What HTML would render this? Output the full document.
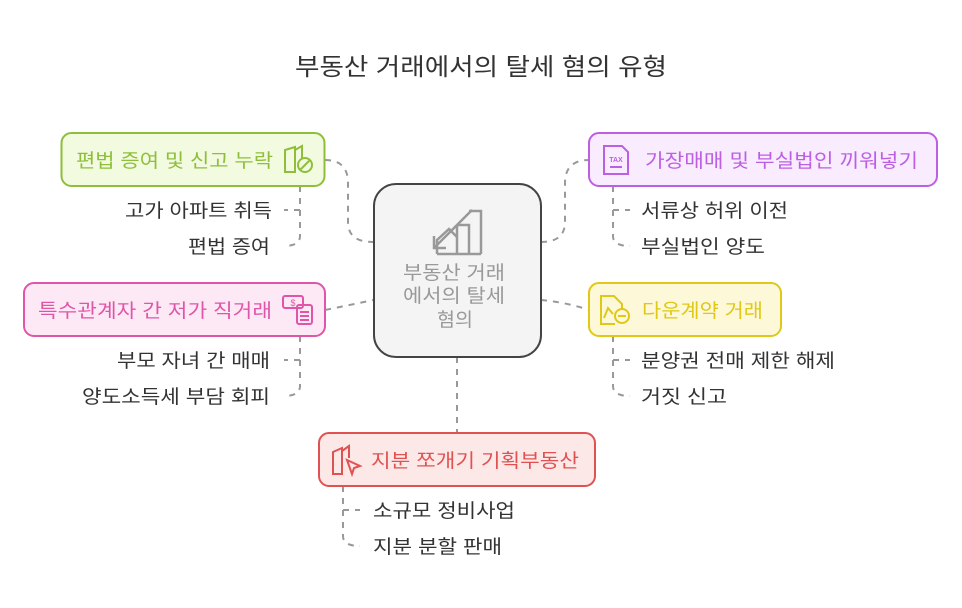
<!DOCTYPE html>
<html><head><meta charset="utf-8"><style>
html,body{margin:0;padding:0;background:#fff;}
svg{display:block;font-family:"Liberation Sans","Noto Sans CJK KR",sans-serif;}
</style></head><body>
<svg width="962" height="608" viewBox="0 0 962 608" xmlns="http://www.w3.org/2000/svg">
<text x="295" y="75" font-size="24" fill="#333" textLength="372" lengthAdjust="spacingAndGlyphs">부동산 거래에서의 탈세 혐의 유형</text>
<g fill="none" stroke="#999" stroke-width="2" stroke-dasharray="6,6">
<path d="M325 160 Q348 160 348 183 L348 222 Q348 242 373 242"/>
<path d="M325 310 Q350 305 373 300"/>
<path d="M541 242 Q565 242 565 222 L565 183 Q565 160 589 160"/>
<path d="M541 300 Q565 302 589 310"/>
<path d="M457 357 L457 433"/>
<path d="M300 186 L300 210 M300 210 L284 210"/>
<path d="M300 210 L300 236 Q300 246 284 246"/>
<path d="M300 336 L300 360 L284 360"/>
<path d="M300 360 L300 386 Q300 396 284 396"/>
<path d="M613 186 L613 210 L630 210"/>
<path d="M613 210 L613 236 Q613 246 630 246"/>
<path d="M613 336 L613 360 L630 360"/>
<path d="M613 360 L613 386 Q613 396 630 396"/>
<path d="M343 486 L343 510 L360 510"/>
<path d="M343 510 L343 536 Q343 546 360 546"/>
</g>
<rect x="374" y="184" width="167" height="173" rx="22" fill="#f4f4f4" stroke="#444" stroke-width="2"/>
<g fill="none" stroke="#999" stroke-width="2.5">
<path d="M437 254 L437 240 L449 229 L457 237 M437 254 L481 254"/>
<path d="M457 225 L469 225 L469 254 M469 211 L481 211 L481 254 M457 225 L457 254"/>
<path d="M472 210 L434 248 M434 236 L434 248 L446 248"/>
</g>
<g font-size="19" fill="#999">
<text x="403" y="279" textLength="102" lengthAdjust="spacingAndGlyphs">부동산 거래</text>
<text x="403" y="302" textLength="102" lengthAdjust="spacingAndGlyphs">에서의 탈세</text>
<text x="437" y="326" textLength="36" lengthAdjust="spacingAndGlyphs">혐의</text>
</g>
<rect x="61.5" y="133" width="263" height="53" rx="10" fill="#f2fbe0" stroke="#8fbf3a" stroke-width="2"/>
<text x="76" y="167" font-size="19" fill="#8fbf3a" textLength="197" lengthAdjust="spacingAndGlyphs">편법 증여 및 신고 누락</text>
<g fill="none" stroke="#8fbf3a" stroke-width="2"><path d="M285 172 L285 150 L295 147 L295 172 Z M295 150 L302 146 L302 158"/><circle cx="305" cy="165" r="7"/><path d="M300 170 L310 160"/></g>
<rect x="589" y="133" width="348" height="53" rx="10" fill="#f9ecfe" stroke="#bd5fe3" stroke-width="2"/>
<text x="645" y="167" font-size="19" fill="#bd5fe3" textLength="273" lengthAdjust="spacingAndGlyphs">가장매매 및 부실법인 끼워넣기</text>
<g fill="none" stroke="#bd5fe3" stroke-width="2"><path d="M604 146 L622 146 L628 152 L628 174 L604 174 Z M610 167 L622 167"/></g>
<text x="616" y="162" font-size="7" font-weight="bold" fill="#bd5fe3" text-anchor="middle">TAX</text>
<rect x="24" y="283" width="301" height="53" rx="10" fill="#fde9f5" stroke="#e055a8" stroke-width="2"/>
<text x="38" y="317" font-size="19" fill="#e055a8" textLength="234" lengthAdjust="spacingAndGlyphs">특수관계자 간 저가 직거래</text>
<g fill="none" stroke="#e055a8" stroke-width="2"><rect x="283" y="296" width="20" height="12" rx="2"/><rect x="297" y="305" width="15" height="19" rx="2"/><path d="M300 312 H309 M300 316 H309 M300 320 H309"/></g>
<text x="293" y="306" font-size="9" fill="#e055a8" text-anchor="middle">$</text>
<rect x="589" y="283" width="192" height="53" rx="10" fill="#fdf8d8" stroke="#e0c816" stroke-width="2"/>
<text x="642" y="317" font-size="19" fill="#e0c816" textLength="121" lengthAdjust="spacingAndGlyphs">다운계약 거래</text>
<g fill="none" stroke="#e0c816" stroke-width="2"><path d="M615 324 L601 324 L601 296 L614 296 L622 304 L622 310"/><path d="M604 318 L608 308 L613 314"/><circle cx="622" cy="316" r="7"/><path d="M618 316 L626 316"/></g>
<rect x="319" y="433" width="276" height="53" rx="10" fill="#fde8e8" stroke="#e05252" stroke-width="2"/>
<text x="371" y="467" font-size="19" fill="#e05252" textLength="208" lengthAdjust="spacingAndGlyphs">지분 쪼개기 기획부동산</text>
<g fill="none" stroke="#e05252" stroke-width="2"><path d="M333 474 L333 452 L342 448 L342 474 Z M342 451 L349 446 L349 458"/><path d="M347 460 L360 466 L354 468 L352 474 Z"/></g>
<g font-size="19" fill="#333">
<text x="125" y="217" textLength="147" lengthAdjust="spacingAndGlyphs">고가 아파트 취득</text>
<text x="188" y="253" textLength="82" lengthAdjust="spacingAndGlyphs">편법 증여</text>
<text x="117" y="367" textLength="153" lengthAdjust="spacingAndGlyphs">부모 자녀 간 매매</text>
<text x="82" y="403" textLength="188" lengthAdjust="spacingAndGlyphs">양도소득세 부담 회피</text>
<text x="641" y="217" textLength="147" lengthAdjust="spacingAndGlyphs">서류상 허위 이전</text>
<text x="641" y="253" textLength="124" lengthAdjust="spacingAndGlyphs">부실법인 양도</text>
<text x="641" y="367" textLength="194" lengthAdjust="spacingAndGlyphs">분양권 전매 제한 해제</text>
<text x="641" y="403" textLength="86" lengthAdjust="spacingAndGlyphs">거짓 신고</text>
<text x="373" y="517" textLength="142" lengthAdjust="spacingAndGlyphs">소규모 정비사업</text>
<text x="373" y="553" textLength="129" lengthAdjust="spacingAndGlyphs">지분 분할 판매</text>
</g>
</svg>
</body></html>
